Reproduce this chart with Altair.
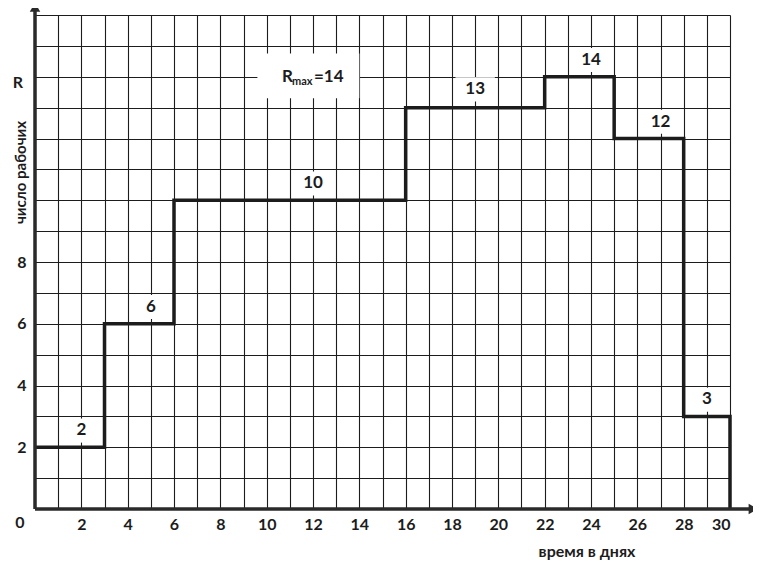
import altair as alt
import pandas as pd

# step schedule: start day of each period and number of workers
day_starts = [0, 3, 6, 16, 22, 25, 28, 30]
workers = [2, 6, 10, 13, 14, 12, 3, 0]

# value labels above each step
label_x = [2, 5, 12, 19, 24, 27, 29]
label_y = [2.55, 6.55, 10.55, 13.6, 14.55, 12.55, 3.55]
label_text = ["2", "6", "10", "13", "14", "12", "3"]

x_label_values = list(range(2, 31, 2))
y_label_values = [2, 4, 6, 8]
x_grid = list(range(0, 31))
y_grid = list(range(0, 17))

rmax_value = 14
x_max = 30
y_max = 16

FONT = "Lato"
INK = "#1c1c1c"

steps = pd.DataFrame({"day": day_starts, "workers": workers})
labels = pd.DataFrame({"x": label_x, "y": label_y, "t": label_text})

xscale = alt.Scale(domain=[0, x_max], nice=False, zero=False)
yscale = alt.Scale(domain=[0, y_max], nice=False, zero=False)

x_even = ",".join(str(v) for v in x_label_values)
y_show = ",".join(str(v) for v in y_label_values)

xaxis = alt.Axis(
    values=x_grid, grid=True, gridColor=INK, gridWidth=1.1, gridOpacity=1,
    ticks=False, domain=False, title=None, labelOverlap=False,
    labelExpr="indexof([" + x_even + "], datum.value) >= 0 ? datum.label : ''",
    labelFont=FONT, labelFontSize=16, labelFontWeight="bold", labelColor=INK,
    labelPadding=7,
)
yaxis = alt.Axis(
    values=y_grid, grid=True, gridColor=INK, gridWidth=1.1, gridOpacity=1,
    ticks=False, domain=False, title=None, labelOverlap=False,
    labelExpr="indexof([" + y_show + "], datum.value) >= 0 ? datum.label : ''",
    labelFont=FONT, labelFontSize=16, labelFontWeight="bold", labelColor=INK,
    labelPadding=9,
)


def X(field):
    return alt.X(field, scale=xscale, axis=xaxis)


def Y(field):
    return alt.Y(field, scale=yscale, axis=yaxis)


# white boxes behind value labels (erasing grid, like the reference)
boxes = alt.Chart(labels).transform_calculate(
    x0="datum.x - 0.25 - 0.3*length(datum.t)",
    x1="datum.x + 0.25 + 0.3*length(datum.t)",
    y0="datum.y - 0.4",
    y1="datum.y + 0.38",
).mark_rect(color="white").encode(
    x=X("x0:Q"), x2="x1:Q", y=Y("y0:Q"), y2="y1:Q",
)

rmax_df = pd.DataFrame({"x": [12], "y": [rmax_value]})
rmax_box = alt.Chart(rmax_df).transform_calculate(
    x0="datum.x - 2.4", x1="datum.x + 2.0", y0="datum.y - 0.7", y1="datum.y + 0.75"
).mark_rect(color="white").encode(
    x=X("x0:Q"), x2="x1:Q", y=Y("y0:Q"), y2="y1:Q",
)

step_line = alt.Chart(steps).mark_line(
    interpolate="step-after", color=INK, strokeWidth=3.5, strokeJoin="miter"
).encode(x=X("day:Q"), y=Y("workers:Q"))

value_text = alt.Chart(labels).mark_text(
    font=FONT, fontSize=17, fontWeight="bold", color=INK
).encode(x=X("x:Q"), y=Y("y:Q"), text="t:N")

rmax_R = alt.Chart(rmax_df).mark_text(
    font=FONT, fontSize=17, fontWeight="bold", color=INK, align="left", dx=-31
).encode(x=X("x:Q"), y=Y("y:Q"), text=alt.value("R"))
rmax_sub = alt.Chart(rmax_df).mark_text(
    font=FONT, fontSize=11, fontWeight="bold", color=INK, align="left", dx=-21, dy=5
).encode(x=X("x:Q"), y=Y("y:Q"), text=alt.value("max"))
rmax_eq = alt.Chart(rmax_df).mark_text(
    font=FONT, fontSize=17, fontWeight="bold", color=INK, align="left", dx=1
).encode(x=X("x:Q"), y=Y("y:Q"), text=alt.value("=" + str(rmax_value)))

# axis lines with arrows
axes_df = pd.DataFrame({"x0": [0, 0], "x1": [0, 31.15], "y0": [0, 0], "y1": [16.35, 0]})
axis_lines = alt.Chart(axes_df).mark_rule(color="#2a2a2a", strokeWidth=3.5).encode(
    x=X("x0:Q"), x2="x1:Q", y=Y("y0:Q"), y2="y1:Q",
)
heads_df = pd.DataFrame({"x": [0, 31.0], "y": [16.25, 0], "shape": ["triangle-up", "triangle-right"]})
heads = alt.Chart(heads_df).mark_point(filled=True, color="#2a2a2a", opacity=1, size=110).encode(
    x=X("x:Q"), y=Y("y:Q"),
    shape=alt.Shape("shape:N", scale=None, legend=None),
)

# axis captions
caption_df = pd.DataFrame({"y": [13.8]})
r_caption = alt.Chart(caption_df).mark_text(
    font=FONT, fontSize=16, fontWeight="bold", color=INK
).encode(x=alt.value(-17), y=Y("y:Q"), text=alt.value("R"))

ytitle_df = pd.DataFrame({"y": [10.9]})
y_title = alt.Chart(ytitle_df).mark_text(
    font=FONT, fontSize=15, fontWeight="bold", color=INK, angle=270
).encode(x=alt.value(-14), y=Y("y:Q"), text=alt.value("число рабочих"))

x_title = alt.Chart(pd.DataFrame({"a": [0]})).mark_text(
    font=FONT, fontSize=16, fontWeight="bold", color=INK
).encode(x=alt.value(552), y=alt.value(537), text=alt.value("время в днях"))

zero_label = alt.Chart(pd.DataFrame({"a": [0]})).mark_text(
    font=FONT, fontSize=16, fontWeight="bold", color=INK
).encode(x=alt.value(-15), y=alt.value(508), text=alt.value("0"))

chart = alt.layer(
    boxes, rmax_box, step_line, axis_lines, heads, value_text,
    rmax_R, rmax_sub, rmax_eq, r_caption, y_title, x_title, zero_label,
).properties(
    width=695, height=494,
    autosize=alt.AutoSizeParams(type="none"),
    padding={"left": 27, "top": 7, "right": 23, "bottom": 51},
    background="white",
).configure_view(stroke=None)

chart.save("out.html", embed_options={"renderer": "svg", "actions": False})
